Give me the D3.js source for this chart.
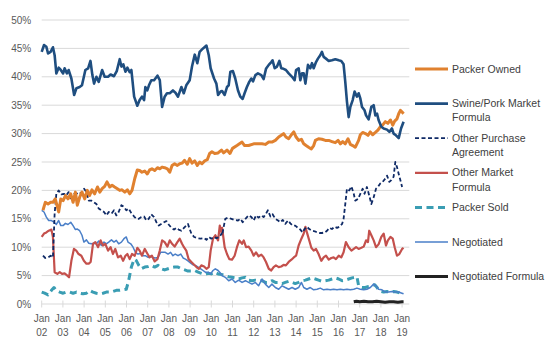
<!DOCTYPE html>
<html lang="en">
  <head>
    <meta charset="UTF-8" />
    <title>Hog procurement shares</title>
    <style>
      body { margin: 0; background: #fff; }
      text { font-family: "Liberation Sans", Arial, sans-serif; }
    </style>
  </head>
  <body>
    <script src="https://cdn.jsdelivr.net/npm/d3@7"></script>
    <script>

    // data: [decimal year, percent]
    var packerOwned = [[2002.06,16.5],[2002.17,17.9],[2002.30,17.6],[2002.42,17.9],[2002.53,17.9],[2002.64,18.5],[2002.80,16.2],[2002.90,18.5],[2003.01,18.2],[2003.12,19.1],[2003.24,18.5],[2003.37,19.4],[2003.48,17.9],[2003.59,19.7],[2003.68,17.4],[2003.79,18.8],[2003.90,19.7],[2004.03,18.5],[2004.15,20.0],[2004.26,19.1],[2004.37,20.1],[2004.50,19.4],[2004.63,20.6],[2004.74,19.7],[2004.85,20.3],[2004.97,20.7],[2005.08,21.5],[2005.21,20.6],[2005.32,20.9],[2005.44,20.6],[2005.57,20.3],[2005.68,20.0],[2005.79,20.1],[2005.92,19.7],[2006.04,20.1],[2006.15,19.4],[2006.26,20.0],[2006.39,22.1],[2006.51,23.6],[2006.62,23.5],[2006.73,23.2],[2006.86,23.4],[2006.98,22.9],[2007.09,23.6],[2007.20,23.8],[2007.33,23.5],[2007.46,24.0],[2007.57,23.8],[2007.68,24.1],[2007.80,24.0],[2007.93,23.8],[2008.04,23.2],[2008.15,24.4],[2008.27,24.7],[2008.40,24.4],[2008.51,24.7],[2008.62,24.8],[2008.74,25.3],[2008.87,24.6],[2008.98,25.6],[2009.09,24.8],[2009.22,25.2],[2009.34,24.4],[2009.45,25.0],[2009.56,24.7],[2009.69,25.2],[2009.81,25.4],[2009.92,26.5],[2010.03,26.8],[2010.16,26.5],[2010.32,26.6],[2010.48,27.1],[2010.58,26.6],[2010.74,27.1],[2010.88,26.5],[2011.00,27.4],[2011.21,27.9],[2011.45,28.5],[2011.57,27.9],[2011.76,27.9],[2012.00,28.2],[2012.23,28.2],[2012.39,28.2],[2012.55,28.1],[2012.71,28.5],[2012.86,28.5],[2013.02,28.8],[2013.18,29.4],[2013.30,29.7],[2013.41,30.0],[2013.52,29.4],[2013.65,29.1],[2013.78,29.8],[2013.89,30.3],[2014.00,29.4],[2014.12,28.8],[2014.25,29.0],[2014.36,28.2],[2014.47,27.9],[2014.59,27.6],[2014.72,27.3],[2014.83,27.9],[2014.91,28.8],[2015.06,29.1],[2015.22,29.0],[2015.38,28.8],[2015.54,28.8],[2015.69,28.6],[2015.85,28.4],[2015.98,28.8],[2016.09,28.2],[2016.20,28.6],[2016.32,28.2],[2016.45,29.1],[2016.56,28.1],[2016.67,27.9],[2016.79,27.6],[2016.87,28.2],[2016.95,28.8],[2017.03,29.8],[2017.14,30.2],[2017.27,30.0],[2017.39,29.7],[2017.50,30.3],[2017.61,29.8],[2017.74,30.2],[2017.86,30.6],[2017.97,31.2],[2018.08,31.5],[2018.21,32.1],[2018.33,31.8],[2018.45,32.4],[2018.56,31.5],[2018.65,32.2],[2018.76,32.6],[2018.84,33.5],[2018.92,34.1],[2019.00,33.8],[2019.07,33.5]];

    var swinePork = [[2002.00,44.4],[2002.11,45.6],[2002.22,45.3],[2002.30,44.1],[2002.42,44.4],[2002.53,45.2],[2002.61,43.8],[2002.69,40.6],[2002.80,41.6],[2002.90,41.2],[2003.01,40.6],[2003.08,41.5],[2003.19,40.6],[2003.27,41.2],[2003.40,39.7],[2003.53,36.8],[2003.64,38.0],[2003.79,38.2],[2003.90,38.5],[2004.06,41.2],[2004.19,41.5],[2004.30,42.8],[2004.39,40.3],[2004.47,38.8],[2004.58,40.0],[2004.69,39.1],[2004.85,41.2],[2004.97,40.0],[2005.13,40.0],[2005.25,40.4],[2005.41,40.1],[2005.54,41.0],[2005.68,43.1],[2005.76,41.8],[2005.85,42.2],[2005.95,40.9],[2006.04,41.6],[2006.15,40.8],[2006.23,41.2],[2006.36,36.5],[2006.51,34.9],[2006.62,35.9],[2006.73,36.5],[2006.83,35.9],[2006.89,38.2],[2006.98,37.6],[2007.06,38.5],[2007.17,39.4],[2007.30,39.4],[2007.46,40.2],[2007.57,39.4],[2007.68,34.7],[2007.80,36.5],[2007.91,37.1],[2008.04,37.1],[2008.19,37.6],[2008.31,37.2],[2008.43,36.5],[2008.59,38.2],[2008.70,37.1],[2008.82,38.5],[2008.98,39.4],[2009.09,41.8],[2009.22,43.9],[2009.34,42.4],[2009.45,44.4],[2009.61,45.0],[2009.77,45.5],[2009.88,43.8],[2009.97,41.5],[2010.13,39.7],[2010.24,38.8],[2010.32,36.8],[2010.44,37.4],[2010.51,37.5],[2010.63,36.8],[2010.74,38.2],[2010.82,38.5],[2010.90,40.9],[2011.02,41.0],[2011.13,39.7],[2011.26,37.6],[2011.37,36.5],[2011.48,36.1],[2011.57,37.1],[2011.68,38.2],[2011.79,39.1],[2011.89,39.7],[2011.97,39.2],[2012.08,40.3],[2012.20,40.6],[2012.36,40.3],[2012.47,39.6],[2012.58,41.4],[2012.71,42.1],[2012.83,42.6],[2012.89,42.9],[2012.99,41.5],[2013.10,41.8],[2013.21,42.8],[2013.30,41.5],[2013.41,41.4],[2013.52,41.2],[2013.65,40.6],[2013.81,40.0],[2013.93,39.4],[2014.00,41.2],[2014.12,41.5],[2014.20,39.4],[2014.28,40.6],[2014.36,40.6],[2014.44,38.8],[2014.56,42.1],[2014.67,41.5],[2014.75,42.4],[2014.83,41.5],[2014.94,42.6],[2015.03,43.2],[2015.14,43.8],[2015.22,44.4],[2015.30,43.5],[2015.41,43.2],[2015.54,42.8],[2015.69,42.9],[2015.85,43.1],[2016.01,42.9],[2016.13,42.8],[2016.24,42.2],[2016.32,39.1],[2016.40,35.6],[2016.48,32.9],[2016.56,34.7],[2016.67,35.9],[2016.76,37.4],[2016.87,36.5],[2016.95,37.1],[2017.03,36.2],[2017.11,34.7],[2017.23,34.1],[2017.30,33.2],[2017.42,32.5],[2017.55,34.7],[2017.66,35.0],[2017.74,33.2],[2017.82,33.5],[2017.89,32.4],[2018.02,31.2],[2018.13,30.9],[2018.29,30.7],[2018.40,30.3],[2018.52,30.9],[2018.60,30.0],[2018.71,29.7],[2018.84,29.2],[2018.95,30.9],[2019.07,32.1]];

    var otherPurchase = [[2002.06,8.5],[2002.17,8.1],[2002.30,8.2],[2002.42,8.5],[2002.53,8.2],[2002.61,15.9],[2002.69,19.4],[2002.80,20.0],[2002.93,19.3],[2003.05,19.4],[2003.16,19.1],[2003.27,19.7],[2003.40,18.2],[2003.52,19.4],[2003.64,19.4],[2003.74,19.7],[2003.87,19.5],[2004.00,20.3],[2004.11,19.7],[2004.22,18.2],[2004.34,18.2],[2004.47,17.9],[2004.58,17.6],[2004.69,16.8],[2004.81,16.5],[2004.94,16.2],[2005.05,15.6],[2005.16,16.2],[2005.29,15.9],[2005.41,16.5],[2005.52,15.6],[2005.63,16.2],[2005.76,17.4],[2005.88,17.1],[2005.99,16.5],[2006.10,16.8],[2006.23,16.0],[2006.36,15.4],[2006.47,15.0],[2006.58,15.0],[2006.70,15.3],[2006.83,15.4],[2006.94,14.7],[2007.05,15.0],[2007.17,15.8],[2007.30,15.3],[2007.41,14.4],[2007.52,13.8],[2007.64,14.1],[2007.77,14.4],[2007.88,14.6],[2007.99,14.0],[2008.12,13.4],[2008.24,13.1],[2008.35,13.4],[2008.46,13.1],[2008.59,12.9],[2008.71,13.4],[2008.82,13.8],[2008.90,14.1],[2008.98,13.2],[2009.06,12.4],[2009.19,11.8],[2009.34,11.6],[2009.50,11.5],[2009.66,11.6],[2009.77,11.3],[2009.88,11.8],[2010.00,11.5],[2010.13,11.8],[2010.24,11.6],[2010.40,11.8],[2010.48,12.4],[2010.51,12.1],[2010.58,13.5],[2010.66,15.0],[2010.79,15.2],[2010.95,15.0],[2011.10,14.8],[2011.26,14.7],[2011.37,15.0],[2011.48,14.4],[2011.61,15.0],[2011.76,15.6],[2011.89,15.3],[2012.00,14.7],[2012.11,15.6],[2012.23,15.2],[2012.36,15.6],[2012.47,15.3],[2012.58,15.9],[2012.67,16.5],[2012.79,15.4],[2012.89,15.8],[2013.02,15.0],[2013.15,14.7],[2013.26,14.4],[2013.37,14.8],[2013.49,14.1],[2013.62,14.7],[2013.73,14.2],[2013.84,13.8],[2013.96,13.8],[2014.09,13.4],[2014.20,13.1],[2014.31,12.6],[2014.40,13.2],[2014.51,13.6],[2014.62,13.2],[2014.75,12.9],[2014.88,12.8],[2014.99,12.6],[2015.10,12.5],[2015.22,12.5],[2015.35,12.6],[2015.46,12.9],[2015.57,13.4],[2015.69,13.2],[2015.82,13.6],[2015.93,13.4],[2016.04,13.6],[2016.17,14.1],[2016.24,15.0],[2016.32,17.6],[2016.40,20.3],[2016.51,20.0],[2016.61,20.7],[2016.72,19.4],[2016.79,18.2],[2016.92,18.5],[2017.03,19.4],[2017.14,20.3],[2017.23,19.4],[2017.34,20.6],[2017.45,19.1],[2017.55,17.6],[2017.66,18.8],[2017.77,20.3],[2017.86,20.6],[2017.97,21.2],[2018.08,21.5],[2018.21,22.1],[2018.29,22.6],[2018.40,21.5],[2018.49,21.8],[2018.60,22.4],[2018.68,25.0],[2018.76,24.1],[2018.84,22.9],[2018.92,21.8],[2019.00,20.6]];

    var otherMarket = [[2002.00,11.8],[2002.11,12.4],[2002.22,12.6],[2002.33,12.9],[2002.46,13.1],[2002.53,11.8],[2002.61,5.6],[2002.74,5.3],[2002.85,5.6],[2002.96,5.3],[2003.08,5.4],[2003.21,5.0],[2003.29,4.7],[2003.40,7.6],[2003.52,9.7],[2003.63,9.4],[2003.74,8.8],[2003.87,8.5],[2003.99,7.6],[2004.11,7.1],[2004.22,7.1],[2004.31,7.4],[2004.42,10.6],[2004.53,10.9],[2004.66,10.0],[2004.78,11.2],[2004.89,10.3],[2005.00,10.6],[2005.13,9.4],[2005.25,10.0],[2005.36,8.8],[2005.47,9.7],[2005.60,8.2],[2005.73,8.5],[2005.84,7.6],[2005.95,8.5],[2006.04,8.8],[2006.15,7.9],[2006.26,8.8],[2006.39,8.5],[2006.51,9.9],[2006.62,9.4],[2006.73,8.5],[2006.86,9.7],[2006.98,8.9],[2007.09,8.2],[2007.20,8.5],[2007.33,7.5],[2007.46,7.9],[2007.57,9.4],[2007.68,11.2],[2007.80,10.9],[2007.93,10.1],[2008.04,11.2],[2008.15,10.6],[2008.27,10.1],[2008.40,10.9],[2008.51,11.5],[2008.62,10.6],[2008.71,10.0],[2008.82,9.4],[2008.93,7.9],[2009.06,7.4],[2009.19,6.9],[2009.30,6.5],[2009.41,6.2],[2009.53,6.8],[2009.66,6.6],[2009.77,6.2],[2009.88,6.5],[2009.97,9.4],[2010.08,11.5],[2010.19,12.1],[2010.32,11.2],[2010.40,13.8],[2010.48,12.6],[2010.51,13.4],[2010.63,10.0],[2010.74,8.8],[2010.85,7.9],[2010.98,7.8],[2011.10,8.5],[2011.21,10.0],[2011.32,11.2],[2011.45,10.6],[2011.53,11.2],[2011.64,10.0],[2011.76,10.1],[2011.89,9.4],[2012.00,8.5],[2012.11,9.1],[2012.23,8.4],[2012.36,8.7],[2012.47,8.2],[2012.58,7.4],[2012.71,6.2],[2012.83,5.9],[2012.94,6.5],[2013.05,6.8],[2013.18,6.5],[2013.30,6.6],[2013.41,6.9],[2013.52,6.8],[2013.65,7.4],[2013.78,7.8],[2013.89,8.2],[2014.00,8.5],[2014.12,10.3],[2014.25,11.5],[2014.36,12.4],[2014.44,13.6],[2014.51,12.6],[2014.62,11.2],[2014.72,9.9],[2014.83,9.4],[2014.94,9.7],[2015.06,8.8],[2015.19,7.6],[2015.30,8.2],[2015.41,8.5],[2015.54,7.8],[2015.66,8.1],[2015.77,8.2],[2015.88,7.9],[2016.01,8.5],[2016.13,8.2],[2016.24,9.1],[2016.35,10.9],[2016.48,10.0],[2016.61,9.4],[2016.72,9.7],[2016.83,10.0],[2016.95,9.7],[2017.08,9.9],[2017.19,10.1],[2017.30,11.2],[2017.39,10.9],[2017.45,12.9],[2017.55,12.1],[2017.66,11.2],[2017.77,10.0],[2017.89,10.5],[2018.02,11.8],[2018.13,12.4],[2018.24,10.3],[2018.33,11.2],[2018.45,11.8],[2018.56,11.5],[2018.65,10.0],[2018.76,8.5],[2018.87,8.8],[2019.00,9.7],[2019.07,9.9]];

    var packerSold = [[2002.00,2.1],[2002.14,1.9],[2002.30,1.6],[2002.46,2.4],[2002.58,2.9],[2002.69,2.4],[2002.85,2.1],[2003.01,1.9],[2003.16,2.1],[2003.32,2.1],[2003.48,1.9],[2003.64,2.1],[2003.79,1.9],[2003.95,1.8],[2004.11,1.9],[2004.26,2.4],[2004.42,2.1],[2004.58,1.9],[2004.74,1.8],[2004.89,1.9],[2005.05,2.1],[2005.21,2.1],[2005.36,2.2],[2005.52,2.4],[2005.68,2.4],[2005.84,2.5],[2005.99,2.6],[2006.10,4.1],[2006.23,6.5],[2006.36,7.9],[2006.47,7.6],[2006.58,6.8],[2006.70,6.2],[2006.86,6.5],[2007.02,6.6],[2007.17,6.8],[2007.33,6.5],[2007.49,6.8],[2007.65,6.2],[2007.80,6.0],[2007.96,6.2],[2008.12,6.4],[2008.27,6.5],[2008.43,6.5],[2008.59,6.2],[2008.75,6.0],[2008.90,5.8],[2009.06,5.8],[2009.22,5.9],[2009.38,5.6],[2009.53,5.4],[2009.69,5.2],[2009.85,5.4],[2010.00,5.3],[2010.16,5.6],[2010.32,5.3],[2010.48,5.2],[2010.66,5.0],[2010.82,4.8],[2010.98,4.7],[2011.13,4.6],[2011.29,4.4],[2011.45,4.6],[2011.61,4.7],[2011.76,4.2],[2011.92,4.1],[2012.08,4.2],[2012.23,4.1],[2012.39,4.1],[2012.55,3.8],[2012.71,3.8],[2012.86,4.1],[2013.02,3.8],[2013.18,3.8],[2013.34,3.6],[2013.49,3.8],[2013.65,4.0],[2013.81,3.8],[2013.96,3.6],[2014.12,3.8],[2014.28,4.1],[2014.44,4.2],[2014.59,4.4],[2014.75,4.6],[2014.91,4.4],[2015.06,4.2],[2015.22,4.0],[2015.38,4.1],[2015.54,4.2],[2015.69,4.4],[2015.85,4.6],[2016.01,4.4],[2016.17,4.1],[2016.32,4.2],[2016.48,4.4],[2016.64,4.6],[2016.79,4.7],[2016.87,4.8],[2016.95,3.2],[2017.11,2.9],[2017.27,2.9],[2017.42,3.1],[2017.58,3.2],[2017.71,3.4],[2017.82,2.9],[2017.89,2.5],[2018.02,2.2],[2018.13,2.1],[2018.29,2.2],[2018.45,2.1],[2018.60,2.2],[2018.76,2.1],[2018.92,1.9],[2019.07,1.8]];

    var negotiated = [[2002.00,16.5],[2002.11,16.2],[2002.22,15.3],[2002.33,14.7],[2002.46,14.7],[2002.58,14.4],[2002.69,14.0],[2002.80,14.7],[2002.90,13.8],[2003.01,13.8],[2003.12,14.2],[2003.24,14.0],[2003.37,14.4],[2003.48,13.8],[2003.59,13.1],[2003.68,13.2],[2003.79,12.9],[2003.90,12.1],[2003.99,10.9],[2004.11,11.3],[2004.22,10.7],[2004.34,10.6],[2004.47,10.7],[2004.58,10.6],[2004.69,11.1],[2004.81,10.3],[2004.94,10.9],[2005.05,10.6],[2005.16,10.9],[2005.29,11.3],[2005.41,10.9],[2005.52,11.2],[2005.63,10.6],[2005.76,10.9],[2005.88,11.5],[2005.99,11.8],[2006.07,10.9],[2006.20,10.6],[2006.31,10.0],[2006.42,9.1],[2006.54,8.8],[2006.67,8.9],[2006.78,8.5],[2006.89,8.5],[2007.02,8.2],[2007.14,8.4],[2007.25,8.2],[2007.36,8.1],[2007.49,8.2],[2007.61,9.1],[2007.72,9.1],[2007.83,9.1],[2007.96,8.8],[2008.08,9.1],[2008.19,8.5],[2008.30,8.8],[2008.43,8.5],[2008.56,8.8],[2008.67,8.1],[2008.78,7.9],[2008.90,7.6],[2009.03,7.2],[2009.14,6.9],[2009.25,6.8],[2009.38,6.5],[2009.50,6.2],[2009.61,5.9],[2009.72,5.6],[2009.85,5.6],[2009.97,5.3],[2010.08,5.9],[2010.19,6.2],[2010.32,5.9],[2010.44,5.4],[2010.51,5.0],[2010.66,4.7],[2010.82,4.1],[2010.98,4.4],[2011.13,3.8],[2011.29,4.2],[2011.45,3.8],[2011.61,4.1],[2011.76,3.8],[2011.92,3.5],[2012.08,3.8],[2012.23,3.2],[2012.39,4.4],[2012.55,3.5],[2012.71,2.9],[2012.86,3.5],[2013.02,2.9],[2013.18,2.6],[2013.34,3.2],[2013.49,2.9],[2013.65,2.6],[2013.81,2.9],[2013.96,2.6],[2014.12,2.9],[2014.25,3.8],[2014.36,2.9],[2014.51,2.6],[2014.67,2.9],[2014.83,2.5],[2014.99,2.6],[2015.14,2.8],[2015.30,2.5],[2015.46,2.6],[2015.62,2.5],[2015.77,2.6],[2015.93,2.5],[2016.09,2.6],[2016.24,2.5],[2016.40,2.6],[2016.56,2.5],[2016.72,2.6],[2016.87,2.8],[2017.03,2.6],[2017.19,2.5],[2017.34,2.6],[2017.50,2.9],[2017.66,3.5],[2017.77,3.2],[2017.89,2.6],[2018.05,2.5],[2018.21,2.1],[2018.37,2.1],[2018.52,2.2],[2018.68,2.1],[2018.84,2.1],[2018.99,1.9],[2019.07,1.8]];

    var negotiatedFormula = [[2016.72,0.4],[2016.85,0.5],[2017.00,0.4],[2017.20,0.5],[2017.40,0.4],[2017.60,0.4],[2017.80,0.5],[2018.00,0.4],[2018.20,0.3],[2018.40,0.4],[2018.60,0.4],[2018.80,0.3],[2019.00,0.4],[2019.07,0.4]];

    var seriesNames = ["Packer Owned", "Swine/Pork Market\nFormula", "Other Purchase\nAgreement",
                       "Other Market\nFormula", "Packer Sold", "Negotiated", "Negotiated Formula"];
    var tickYears = d3.range(2002, 2020);
    var yTicks = [0, 5, 10, 15, 20, 25, 30, 35, 40, 45, 50];

    var w = 553, h = 353;
    var margin = { top: 20, left: 41.7, right: 143.7, bottom: 49 };
    var pw = w - margin.left - margin.right;
    var ph = h - margin.top - margin.bottom;

    var svg = d3.select("body").append("svg")
                .attr("width", w)
                .attr("height", h);

    var xScale = d3.scaleLinear().domain([2002, 2019.34]).range([0, pw]);
    var yScale = d3.scaleLinear().domain([0, 50]).range([ph, 0]);

    var g = svg.append("g")
               .attr("transform", "translate(" + margin.left + "," + margin.top + ")");

    // gridlines
    g.selectAll(".grid").data(yTicks).enter().append("line")
     .attr("x1", 0).attr("x2", pw)
     .attr("y1", function(d) { return yScale(d); })
     .attr("y2", function(d) { return yScale(d); })
     .attr("stroke", "#d9d9d9").attr("stroke-width", 1);

    // y labels
    g.selectAll(".ylab").data(yTicks).enter().append("text")
     .attr("x", -10.5)
     .attr("y", function(d) { return yScale(d); })
     .attr("dy", "0.35em")
     .attr("text-anchor", "end")
     .attr("font-size", "10px")
     .attr("fill", "#595959")
     .text(function(d) { return d + "%"; });

    // x ticks + labels
    g.selectAll(".xtick").data(tickYears).enter().append("line")
     .attr("x1", function(d) { return xScale(d); })
     .attr("x2", function(d) { return xScale(d); })
     .attr("y1", ph - 3.5).attr("y2", ph + 3.5)
     .attr("stroke", "#d9d9d9").attr("stroke-width", 1);

    var xl = g.selectAll(".xlab").data(tickYears).enter().append("text")
     .attr("text-anchor", "middle")
     .attr("font-size", "10px")
     .attr("fill", "#595959")
     .attr("transform", function(d) { return "translate(" + xScale(d) + "," + (ph + 14) + ")"; });
    xl.append("tspan").attr("x", 0).attr("dy", "0.35em").text("Jan");
    xl.append("tspan").attr("x", 0).attr("dy", "14.6").text(function(d) { return String(d % 100).padStart(2, "0"); });

    var line = d3.line()
                 .x(function(d) { return xScale(d[0]); })
                 .y(function(d) { return yScale(d[1]); });

    var styles = [
      { data: packerOwned,      color: "#E0812F", width: 3,   dash: null },
      { data: swinePork,        color: "#1F4E80", width: 2.6, dash: null },
      { data: otherPurchase,    color: "#0F2A66", width: 1.8, dash: "4,2.5" },
      { data: otherMarket,      color: "#C4504C", width: 2.2, dash: null },
      { data: packerSold,       color: "#3A9DB3", width: 3,   dash: "7,4.5" },
      { data: negotiated,       color: "#4A7FC8", width: 1.5, dash: null },
      { data: negotiatedFormula,color: "#222222", width: 3,   dash: null }
    ];

    // draw order: back to front
    var order = [4, 5, 3, 2, 0, 1, 6];
    order.forEach(function(i) {
      var s = styles[i];
      g.append("path")
       .datum(s.data)
       .attr("fill", "none")
       .attr("stroke", s.color)
       .attr("stroke-width", s.width)
       .attr("stroke-linejoin", "round")
       .attr("stroke-dasharray", s.dash)
       .attr("d", line);
    });

    // legend
    var legend = svg.append("g").attr("transform", "translate(415,69)");
    seriesNames.forEach(function(name, i) {
      var s = styles[i];
      var y = i * 34.6;
      legend.append("line")
            .attr("x1", 0).attr("x2", 33)
            .attr("y1", y).attr("y2", y)
            .attr("stroke", s.color)
            .attr("stroke-width", s.width)
            .attr("stroke-dasharray", s.dash);
      var t = legend.append("text")
            .attr("font-size", "10.5px")
            .attr("fill", "#404040")
            .attr("transform", "translate(37," + y + ")");
      name.split("\n").forEach(function(part, j) {
        t.append("tspan").attr("x", 0).attr("dy", j === 0 ? "0.35em" : "14.2").text(part);
      });
    });

    </script>
  </body>
</html>
